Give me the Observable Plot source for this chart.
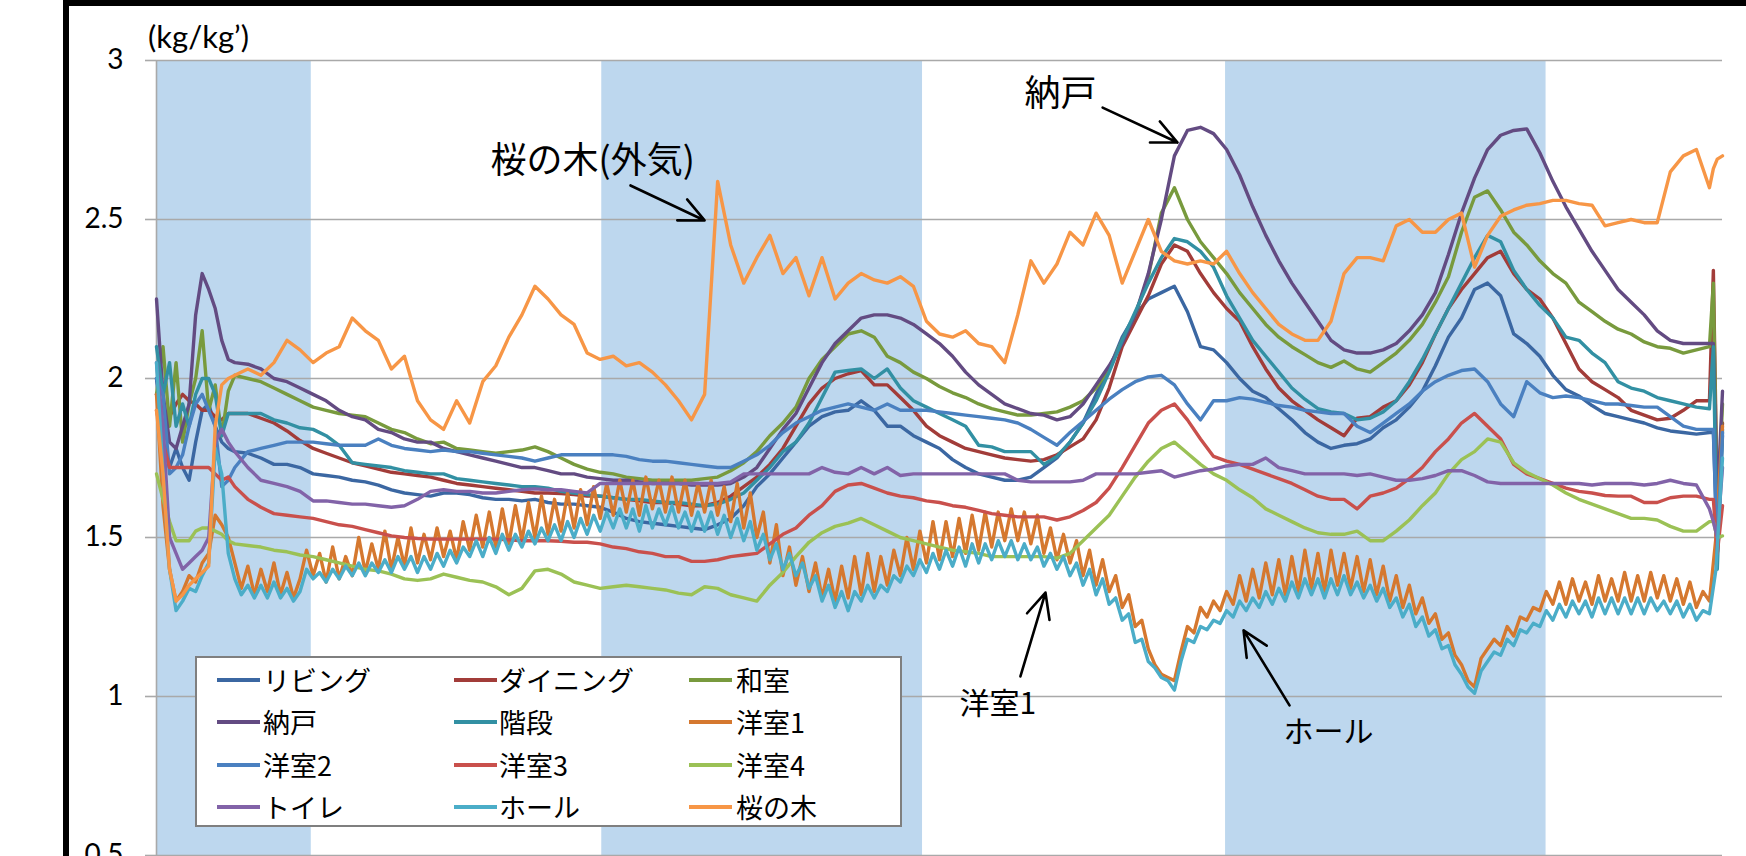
<!DOCTYPE html>
<html><head><meta charset="utf-8">
<script src="https://cdn.jsdelivr.net/npm/d3@7"></script>
<script src="https://cdn.jsdelivr.net/npm/@observablehq/plot@0.6"></script>
<style>
html,body{margin:0;padding:0;overflow:hidden;background:#fff;width:1746px;height:856px}
#wrap{position:relative;width:1746px;height:856px;overflow:hidden;background:#fff}
#wrap svg{position:absolute;left:0;top:0}
.frameL{position:absolute;left:63px;top:0;width:6px;height:856px;background:#000;z-index:3}
.frameT{position:absolute;left:63px;top:0;width:1683px;height:6px;background:#000;z-index:3}
#unit{position:absolute;left:148px;top:20px;font-family:Lato,"Open Sans",sans-serif;font-size:31px;line-height:32px;color:#000;z-index:3}
#legend{position:absolute;left:195px;top:656px;width:703px;height:167px;border:2px solid #7f7f7f;background:#fff;z-index:4}
#legend .sw{position:absolute;width:43px;height:4px}
#legend .lb{position:absolute;font-family:"Noto Sans CJK JP",sans-serif;font-size:27px;line-height:32px;color:#000;white-space:nowrap}
</style></head>
<body><div id="wrap"><div class="frameL"></div><div class="frameT"></div><div id="unit">(kg/kg’)</div><div id="legend"></div></div>
<script>
// ---- series names / colors ----
const seriesNames = ["リビング","ダイニング","和室","納戸","階段","洋室1","洋室2","洋室3","洋室4","トイレ","ホール","桜の木"];
const seriesColors = ["#3B67A2","#A23C39","#789A3D","#634B82","#3290A3","#D5782F","#4A80C0","#C9504C","#9BC155","#8263A8","#4BADC8","#F79646"];

// ---- time grids (hours) ----
const T1 = [...d3.range(0, 3, 0.25), ...d3.range(3, 59.5, 0.5), 59.5, 59.65, 59.8, 60];
const T2 = d3.range(0, 241).map(i => i * 0.25);

// ---- y ticks ----
const yTicks = [0.5, 1, 1.5, 2, 2.5, 3];

// ---- shaded periods ----
const bandStart = [0, 17.06, 40.96];
const bandEnd = [5.93, 29.35, 53.24];

// ---- series values (T1 grid) ----
const living = [
 2.00,1.80,1.72,1.78,1.72,1.68,1.80,1.90,1.92,1.85,1.80,1.78,1.77,
 1.765,
 1.75,1.73, 1.73,1.72, 1.70,1.695, 1.69,1.68, 1.675,1.665, 1.65,1.64,
 1.635,1.63, 1.64,1.64, 1.635,1.625, 1.62,1.62, 1.615,1.62, 1.61,1.605,
 1.605,1.60, 1.595,1.58, 1.56,1.55, 1.545,1.54, 1.535,1.53, 1.525,1.54,
 1.56,1.60, 1.66,1.70, 1.75,1.80, 1.85,1.88, 1.895,1.90, 1.93,1.90,
 1.85,1.85, 1.82,1.80, 1.78,1.745, 1.72,1.70, 1.69,1.68, 1.68,1.69,
 1.72,1.75, 1.80,1.86, 1.95,2.03, 2.13,2.20, 2.25,2.27, 2.29,2.21,
 2.10,2.09, 2.05,2.00, 1.96,1.94, 1.905,1.87, 1.83,1.80, 1.78,1.79,
 1.795,1.81, 1.845,1.87, 1.91,1.96, 2.04,2.13, 2.19,2.28, 2.30,2.26,
 2.14,2.11, 2.07,2.01, 1.965,1.945, 1.915,1.89, 1.88,1.87, 1.86,1.845,
 1.835,1.83, 1.825,1.83,
 1.83,1.45,1.82];
const dining = [
 1.95,1.90,1.88,1.92,1.95,1.93,1.92,1.90,1.90,1.88,1.87,1.89,1.89,
 1.89,
 1.875,1.86, 1.835,1.805, 1.78,1.765, 1.75,1.735, 1.725,1.715, 1.705,1.70,
 1.695,1.69, 1.68,1.67, 1.665,1.66, 1.655,1.65, 1.645,1.64, 1.64,1.638,
 1.635,1.63, 1.63,1.625, 1.62,1.615, 1.61,1.61, 1.605,1.60, 1.60,1.61,
 1.63,1.66, 1.69,1.73, 1.78,1.85, 1.92,1.97, 2.00,2.015, 2.025,1.98,
 1.98,1.94, 1.90,1.85, 1.82,1.80, 1.78,1.77, 1.76,1.75, 1.745,1.74,
 1.745,1.76, 1.785,1.81, 1.87,1.97, 2.10,2.18, 2.26,2.36, 2.42,2.40,
 2.33,2.27, 2.22,2.18, 2.10,2.03, 1.97,1.93, 1.90,1.87, 1.845,1.82,
 1.875,1.88, 1.91,1.93, 1.98,2.05, 2.14,2.22, 2.28,2.33, 2.38,2.40,
 2.33,2.28, 2.25,2.19, 2.11,2.03, 1.99,1.965, 1.94,1.90, 1.885,1.87,
 1.875,1.90, 1.93,1.93,
 2.34,1.60,1.86];
const washitsu = [
 1.95,2.10,1.85,2.05,1.80,1.92,2.00,2.15,1.90,1.98,1.82,1.96,2.01,
 2.00,
 1.99,1.97, 1.95,1.93, 1.91,1.90, 1.89,1.885, 1.88,1.86, 1.84,1.83,
 1.81,1.795, 1.80,1.78, 1.775,1.77, 1.765,1.77, 1.775,1.785, 1.77,1.75,
 1.73,1.715, 1.705,1.70, 1.69,1.685, 1.68,1.68, 1.68,1.68, 1.685,1.69,
 1.71,1.735, 1.77,1.82, 1.86,1.91, 2.00,2.06, 2.10,2.14, 2.15,2.13,
 2.07,2.05, 2.02,2.00, 1.975,1.955, 1.94,1.92, 1.905,1.895, 1.885,1.885,
 1.89,1.895, 1.91,1.93, 1.97,2.03, 2.12,2.20, 2.32,2.52, 2.60,2.50,
 2.43,2.38, 2.33,2.27, 2.22,2.17, 2.13,2.10, 2.075,2.05, 2.035,2.055,
 2.03,2.02, 2.05,2.08, 2.12,2.17, 2.24,2.32, 2.46,2.57, 2.59,2.53,
 2.46,2.42, 2.37,2.33, 2.30,2.24, 2.21,2.18, 2.155,2.14, 2.115,2.10,
 2.095,2.08, 2.09,2.10,
 2.30,1.55,1.92];
const nando = [
 2.25,1.95,1.80,1.78,1.85,1.92,2.20,2.33,2.28,2.22,2.12,2.06,2.05,
 2.045,
 2.03,2.00, 1.99,1.97, 1.95,1.93, 1.90,1.88, 1.87,1.84, 1.83,1.81,
 1.80,1.80, 1.78,1.77, 1.76,1.75, 1.74,1.73, 1.72,1.72, 1.71,1.70,
 1.70,1.69, 1.685,1.68, 1.68,1.675, 1.67,1.67, 1.67,1.665, 1.665,1.665,
 1.67,1.69, 1.72,1.78, 1.84,1.89, 1.97,2.05, 2.11,2.15, 2.19,2.20,
 2.20,2.19, 2.17,2.14, 2.11,2.07, 2.02,1.98, 1.95,1.92, 1.905,1.89,
 1.885,1.87, 1.88,1.92, 1.98,2.04, 2.11,2.20, 2.33,2.50, 2.70,2.78,
 2.79,2.77, 2.72,2.64, 2.54,2.45, 2.37,2.30, 2.24,2.18, 2.12,2.09,
 2.08,2.08, 2.09,2.11, 2.15,2.20, 2.27,2.39, 2.52,2.63, 2.72,2.765,
 2.78,2.785, 2.71,2.62, 2.54,2.47, 2.40,2.34, 2.28,2.24, 2.20,2.15,
 2.12,2.11, 2.11,2.11,
 2.11,1.60,1.96];
const kaidan = [
 2.10,1.95,2.05,1.85,1.92,1.85,1.95,2.00,2.00,1.95,1.82,1.89,1.89,
 1.89,
 1.89,1.87, 1.86,1.845, 1.84,1.82, 1.79,1.735, 1.73,1.725, 1.72,1.71,
 1.705,1.70, 1.70,1.685, 1.68,1.675, 1.67,1.665, 1.66,1.66, 1.655,1.645,
 1.64,1.635, 1.63,1.625, 1.62,1.62, 1.615,1.61, 1.61,1.605, 1.60,1.605,
 1.62,1.64, 1.68,1.72, 1.77,1.80, 1.86,1.94, 2.02,2.025, 2.03,2.00,
 2.03,1.97, 1.93,1.91, 1.89,1.87, 1.85,1.79, 1.785,1.77, 1.77,1.77,
 1.73,1.755, 1.80,1.86, 1.93,2.02, 2.12,2.21, 2.30,2.38, 2.44,2.43,
 2.40,2.35, 2.26,2.19, 2.12,2.07, 2.02,1.97, 1.935,1.905, 1.895,1.89,
 1.87,1.875, 1.895,1.93, 1.99,2.06, 2.14,2.22, 2.30,2.38, 2.45,2.43,
 2.34,2.28, 2.23,2.19, 2.13,2.12, 2.08,2.05, 1.99,1.97, 1.96,1.94,
 1.93,1.92, 1.91,1.905,
 2.10,1.40,1.84];
const yoshitsu2 = [
 2.00,1.95,1.70,1.72,1.76,1.85,1.92,1.95,1.90,1.85,1.66,1.68,1.72,
 1.77,
 1.78,1.79, 1.80,1.80, 1.80,1.795, 1.79,1.79, 1.79,1.81, 1.79,1.78,
 1.775,1.77, 1.775,1.77, 1.77,1.765, 1.76,1.755, 1.75,1.74, 1.75,1.76,
 1.76,1.76, 1.76,1.76, 1.755,1.745, 1.74,1.74, 1.735,1.73, 1.725,1.72,
 1.72,1.74, 1.76,1.79, 1.83,1.86, 1.88,1.90, 1.91,1.92, 1.91,1.90,
 1.92,1.90, 1.90,1.90, 1.895,1.89, 1.885,1.88, 1.875,1.87, 1.86,1.84,
 1.815,1.79, 1.83,1.865, 1.90,1.935, 1.965,1.99, 2.005,2.01, 1.98,1.92,
 1.87,1.93, 1.93,1.94, 1.935,1.925, 1.915,1.91, 1.90,1.895, 1.89,1.89,
 1.85,1.83, 1.86,1.89, 1.92,1.96, 1.99,2.01, 2.025,2.03, 1.99,1.92,
 1.88,1.99, 1.955,1.94, 1.945,1.94, 1.93,1.92, 1.92,1.915, 1.91,1.91,
 1.88,1.85, 1.84,1.84,
 1.84,1.45,1.83];
const yoshitsu3 = [
 1.90,1.80,1.72,1.72,1.72,1.72,1.72,1.72,1.72,1.70,1.68,1.69,1.66,
 1.62,
 1.595,1.575, 1.57,1.565, 1.56,1.55, 1.54,1.535, 1.525,1.515, 1.505,1.50,
 1.497,1.495, 1.495,1.495, 1.495,1.495, 1.495,1.493, 1.49,1.49, 1.49,1.488,
 1.485,1.485, 1.48,1.47, 1.465,1.455, 1.45,1.44, 1.44,1.425, 1.425,1.43,
 1.44,1.445, 1.45,1.48, 1.51,1.53, 1.57,1.60, 1.645,1.665, 1.67,1.655,
 1.64,1.63, 1.625,1.615, 1.61,1.60, 1.595,1.585, 1.575,1.57, 1.565,1.565,
 1.565,1.555, 1.565,1.585, 1.61,1.655, 1.72,1.79, 1.86,1.90, 1.92,1.87,
 1.81,1.755, 1.74,1.73, 1.715,1.70, 1.685,1.67, 1.65,1.63, 1.62,1.62,
 1.59,1.63, 1.64,1.655, 1.685,1.72, 1.77,1.81, 1.86,1.89, 1.85,1.81,
 1.73,1.70, 1.685,1.67, 1.655,1.645, 1.64,1.632, 1.63,1.63, 1.61,1.61,
 1.625,1.63, 1.63,1.62,
 1.62,1.45,1.60];
const yoshitsu4 = [
 1.70,1.62,1.55,1.49,1.49,1.49,1.52,1.53,1.53,1.52,1.51,1.49,1.48,
 1.475,
 1.47,1.46, 1.455,1.445, 1.44,1.43, 1.42,1.41, 1.40,1.395, 1.385,1.37,
 1.365,1.37, 1.385,1.375, 1.365,1.36, 1.345,1.32, 1.34,1.395, 1.40,1.385,
 1.36,1.35, 1.34,1.345, 1.35,1.345, 1.34,1.335, 1.325,1.32, 1.345,1.34,
 1.32,1.31, 1.30,1.35, 1.39,1.44, 1.485,1.515, 1.535,1.545, 1.56,1.54,
 1.52,1.50, 1.49,1.48, 1.47,1.46, 1.455,1.45, 1.44,1.44, 1.44,1.44,
 1.44,1.435, 1.45,1.49, 1.53,1.57, 1.63,1.69, 1.74,1.78, 1.80,1.765,
 1.73,1.70, 1.68,1.65, 1.625,1.59, 1.57,1.55, 1.53,1.515, 1.51,1.51,
 1.52,1.49, 1.49,1.52, 1.555,1.60, 1.64,1.70, 1.745,1.77, 1.81,1.80,
 1.735,1.705, 1.685,1.665, 1.64,1.62, 1.605,1.59, 1.575,1.56, 1.56,1.555,
 1.535,1.52, 1.52,1.55,
 1.55,1.50,1.505];
const toilet = [
 2.05,1.85,1.50,1.45,1.40,1.42,1.44,1.46,1.50,1.80,1.84,1.80,1.77,
 1.72,
 1.68,1.67, 1.66,1.645, 1.615,1.615, 1.61,1.605, 1.605,1.60, 1.595,1.60,
 1.62,1.645, 1.65,1.645, 1.645,1.64, 1.64,1.645, 1.65,1.653, 1.65,1.65,
 1.645,1.64, 1.67,1.67, 1.67,1.67, 1.67,1.67, 1.67,1.67, 1.67,1.67,
 1.675,1.70, 1.70,1.70, 1.70,1.70, 1.70,1.72, 1.705,1.70, 1.72,1.70,
 1.72,1.695, 1.70,1.70, 1.70,1.70, 1.70,1.70, 1.70,1.70, 1.68,1.675,
 1.675,1.675, 1.675,1.68, 1.70,1.70, 1.70,1.70, 1.705,1.71, 1.69,1.70,
 1.71,1.715, 1.725,1.73, 1.73,1.75, 1.72,1.71, 1.70,1.70, 1.70,1.70,
 1.695,1.70, 1.69,1.68, 1.68,1.685, 1.695,1.71, 1.71,1.695, 1.675,1.67,
 1.67,1.67, 1.67,1.67, 1.67,1.67, 1.665,1.67, 1.67,1.67, 1.665,1.67,
 1.68,1.67, 1.665,1.59,
 1.55,1.50,1.72];
const sakura = [
 1.90,1.70,1.40,1.30,1.32,1.35,1.37,1.39,1.41,1.85,1.98,2.00,2.01,
 2.03,
 2.01,2.05, 2.12,2.09, 2.05,2.08, 2.10,2.19, 2.15,2.12, 2.03,2.07,
 1.93,1.87, 1.84,1.93, 1.86,1.99, 2.04,2.13, 2.20,2.29, 2.25,2.20,
 2.17,2.08, 2.06,2.07, 2.04,2.05, 2.02,1.98, 1.93,1.87, 1.95,2.62,
 2.42,2.30, 2.38,2.45, 2.33,2.38, 2.26,2.38, 2.25,2.30, 2.33,2.31,
 2.30,2.32, 2.29,2.18, 2.14,2.13, 2.15,2.11, 2.10,2.05, 2.20,2.37,
 2.30,2.36, 2.46,2.42, 2.52,2.45, 2.30,2.40, 2.50,2.40, 2.37,2.36,
 2.37,2.36, 2.40,2.33, 2.27,2.22, 2.17,2.14, 2.12,2.12, 2.18,2.33,
 2.38,2.38, 2.37,2.48, 2.50,2.46, 2.46,2.50, 2.52,2.35, 2.45,2.51,
 2.53,2.545, 2.55,2.56, 2.56,2.55, 2.545,2.48, 2.49,2.50, 2.49,2.49,
 2.65,2.70, 2.72,2.60,
 2.66,2.69,2.70];

// ---- series values (T2 grid, quarter hours) ----
const yoshitsu1 = [
 1.95,1.60,1.40,1.30, 1.33,1.38,1.36,1.42, 1.45,1.57,1.54,1.50, 1.42,1.34,1.41,1.32,
 1.40,1.33,1.42,1.32, 1.39,1.31,1.37,1.46, 1.38,1.45,1.36,1.47, 1.37,1.44,1.38,1.50,
 1.39,1.48,1.40,1.52, 1.40,1.50,1.41,1.53, 1.42,1.51,1.43,1.53, 1.44,1.52,1.43,1.55,
 1.46,1.57,1.47,1.58, 1.47,1.59,1.48,1.60, 1.49,1.61,1.50,1.63, 1.51,1.62,1.52,1.64,
 1.53,1.65,1.54,1.66, 1.56,1.67,1.57,1.68, 1.58,1.68,1.57,1.69, 1.59,1.68,1.58,1.69,
 1.58,1.68,1.57,1.67, 1.58,1.68,1.57,1.66, 1.55,1.67,1.53,1.64, 1.50,1.58,1.42,1.54,
 1.38,1.47,1.35,1.44, 1.33,1.42,1.31,1.40, 1.30,1.41,1.31,1.44, 1.32,1.45,1.33,1.44,
 1.35,1.46,1.38,1.50, 1.40,1.52,1.42,1.55, 1.43,1.55,1.44,1.56, 1.45,1.57,1.46,1.58,
 1.47,1.58,1.49,1.59, 1.49,1.58,1.48,1.57, 1.45,1.53,1.43,1.51, 1.42,1.49,1.38,1.46,
 1.35,1.43,1.33,1.38, 1.28,1.32,1.22,1.24, 1.15,1.10,1.07,1.06, 1.05,1.14,1.22,1.20,
 1.28,1.25,1.30,1.27, 1.33,1.29,1.38,1.30, 1.40,1.31,1.42,1.32, 1.43,1.32,1.44,1.33,
 1.46,1.34,1.45,1.33, 1.46,1.35,1.45,1.34, 1.44,1.33,1.43,1.32, 1.41,1.30,1.38,1.28,
 1.35,1.26,1.31,1.23, 1.26,1.18,1.20,1.13, 1.10,1.05,1.03,1.12, 1.15,1.18,1.16,1.22,
 1.19,1.25,1.24,1.28, 1.27,1.33,1.29,1.36, 1.29,1.37,1.30,1.36, 1.29,1.38,1.30,1.37,
 1.30,1.39,1.30,1.38, 1.30,1.39,1.31,1.38, 1.30,1.37,1.29,1.36, 1.28,1.33,1.30,1.50,
 1.85];
const hall = [
 2.05,1.70,1.40,1.27, 1.30,1.34,1.33,1.38, 1.42,1.78,1.70,1.45, 1.37,1.32,1.35,1.31,
 1.35,1.31,1.36,1.31, 1.34,1.30,1.33,1.40, 1.37,1.39,1.36,1.40, 1.37,1.41,1.38,1.42,
 1.38,1.42,1.39,1.43, 1.39,1.44,1.40,1.44, 1.39,1.44,1.40,1.45, 1.41,1.46,1.42,1.47,
 1.44,1.49,1.44,1.50, 1.45,1.51,1.46,1.51, 1.47,1.52,1.48,1.53, 1.49,1.54,1.49,1.55,
 1.50,1.56,1.51,1.57, 1.52,1.58,1.53,1.59, 1.53,1.59,1.52,1.60, 1.53,1.59,1.54,1.60,
 1.53,1.58,1.52,1.58, 1.52,1.58,1.51,1.57, 1.50,1.56,1.49,1.55, 1.46,1.51,1.43,1.48,
 1.40,1.45,1.38,1.42, 1.34,1.38,1.30,1.35, 1.28,1.33,1.27,1.33, 1.30,1.35,1.31,1.35,
 1.33,1.38,1.36,1.41, 1.38,1.43,1.39,1.45, 1.40,1.46,1.41,1.47, 1.41,1.48,1.42,1.48,
 1.43,1.49,1.44,1.49, 1.43,1.48,1.43,1.47, 1.41,1.45,1.40,1.44, 1.38,1.42,1.35,1.40,
 1.32,1.37,1.29,1.31, 1.24,1.26,1.17,1.18, 1.11,1.09,1.06,1.05, 1.02,1.11,1.18,1.17,
 1.22,1.21,1.24,1.23, 1.27,1.25,1.30,1.27, 1.31,1.28,1.33,1.29, 1.34,1.30,1.36,1.31,
 1.37,1.32,1.37,1.31, 1.37,1.32,1.38,1.32, 1.36,1.31,1.35,1.30, 1.34,1.28,1.31,1.25,
 1.29,1.22,1.25,1.19, 1.21,1.15,1.16,1.10, 1.07,1.03,1.01,1.08, 1.11,1.14,1.13,1.18,
 1.16,1.21,1.20,1.23, 1.22,1.27,1.24,1.29, 1.25,1.30,1.26,1.30, 1.25,1.31,1.26,1.31,
 1.26,1.31,1.26,1.31, 1.26,1.31,1.27,1.30, 1.26,1.30,1.25,1.29, 1.24,1.27,1.26,1.40,
 1.75];

// ---- annotations (data coordinates) ----
const annoBig = [{label: "桜の木(外気)", x: 12.8, y: 2.682}, {label: "納戸", x: 33.26, y: 2.893}];
const annoSmall = [{label: "洋室1", x: 30.77, y: 0.975}, {label: "ホール", x: 43.18, y: 0.887}];
const annoArrows = [
  {x1: 18.16, y1: 2.607, x2: 21.0, y2: 2.497},
  {x1: 36.25, y1: 2.852, x2: 39.12, y2: 2.742},
  {x1: 33.1, y1: 1.063, x2: 34.06, y2: 1.327},
  {x1: 43.41, y1: 0.972, x2: 41.65, y2: 1.208}
];

// ---- build ----
const seriesValues = [living, dining, washitsu, nando, kaidan, yoshitsu1, yoshitsu2, yoshitsu3, yoshitsu4, toilet, hall, sakura];
const tables = seriesValues.map((vals, i) => {
  const T = (i === 5 || i === 10) ? T2 : T1;
  if (vals.length !== T.length) throw new Error(seriesNames[i] + " length " + vals.length + " vs " + T.length);
  return vals.map((v, j) => ({t: T[j], v}));
});
const bands = bandStart.map((s, i) => ({s, e: bandEnd[i]}));

const chart = Plot.plot({
  width: 1746, height: 900,
  marginLeft: 156, marginRight: 24, marginTop: 60, marginBottom: 45,
  x: {domain: [0, 60], axis: null},
  y: {domain: [0.5, 3]},
  style: {background: "transparent", overflow: "visible"},
  marks: [
    Plot.rect(bands, {x1: "s", x2: "e", y1: () => 0.5, y2: () => 3, fill: "#BDD7EE"}),
    Plot.ruleY(yTicks, {stroke: "#a9a9a9", strokeWidth: 1.6}),
    Plot.ruleX([0], {stroke: "#a9a9a9", strokeWidth: 1.6}),
    Plot.axisY({ticks: yTicks, tickSize: 11, tickPadding: 22, stroke: "#a9a9a9", strokeWidth: 1.6, fill: "#000", fontSize: 28, fontFamily: "Lato, 'Open Sans', sans-serif", label: null, tickFormat: d => String(d)}),
    ...tables.map((d, i) => Plot.line(d, {x: "t", y: "v", stroke: seriesColors[i], strokeWidth: 3.4, strokeLinejoin: "round"})),
    Plot.arrow(annoArrows, {x1: "x1", y1: "y1", x2: "x2", y2: "y2", stroke: "#000", strokeWidth: 2.6, headLength: 16, headAngle: 50}),
    Plot.text(annoBig, {x: "x", y: "y", text: "label", textAnchor: "start", fontSize: 36, fontFamily: "'Noto Sans CJK JP', sans-serif", fill: "#000"}),
    Plot.text(annoSmall, {x: "x", y: "y", text: "label", textAnchor: "start", fontSize: 30, fontFamily: "'Noto Sans CJK JP', sans-serif", fill: "#000"})
  ]
});
const wrap = document.getElementById("wrap");
wrap.insertBefore(chart, wrap.firstChild);

// ---- legend ----
const legend = document.getElementById("legend");
const colSw = [20, 257, 492], colTx = [66, 302, 539], rowY = [22, 64, 107, 149];
seriesNames.forEach((name, i) => {
  const r = Math.floor(i / 3), c = i % 3;
  const sw = document.createElement("div");
  sw.className = "sw"; sw.style.left = colSw[c] + "px"; sw.style.top = (rowY[r] - 2) + "px"; sw.style.background = seriesColors[i];
  const lb = document.createElement("div");
  lb.className = "lb"; lb.style.left = colTx[c] + "px"; lb.style.top = (rowY[r] - 16) + "px"; lb.textContent = name;
  legend.appendChild(sw); legend.appendChild(lb);
});
</script>
</body></html>
